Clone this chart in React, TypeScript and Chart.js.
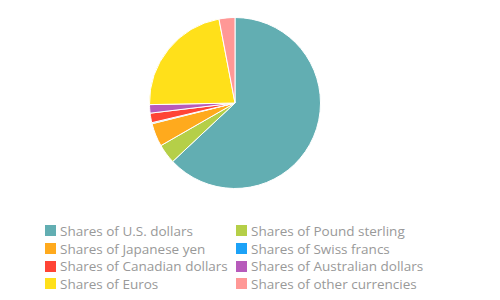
import React, { useEffect, useRef } from "react";
import { Chart, registerables } from "chart.js";

Chart.register(...registerables);

// Currency composition of reserves (percent shares)
const categories = [
  "Shares of U.S. dollars",
  "Shares of Pound sterling",
  "Shares of Japanese yen",
  "Shares of Swiss francs",
  "Shares of Canadian dollars",
  "Shares of Australian dollars",
  "Shares of Euros",
  "Shares of other currencies",
];
const shares = [63.0, 3.7, 4.4, 0.2, 1.8, 1.6, 22.3, 3.0];
const colors = [
  "#62AEB2",
  "#B5CF48",
  "#FFAA1D",
  "#1CA2F7",
  "#FF4436",
  "#B75BBB",
  "#FFE01A",
  "#FF9896",
];

export default function App() {
  const canvasRef = useRef<HTMLCanvasElement | null>(null);

  useEffect(() => {
    if (!canvasRef.current) return;
    const chart = new Chart(canvasRef.current, {
      type: "pie",
      data: {
        labels: categories,
        datasets: [
          {
            data: shares,
            backgroundColor: colors,
            borderColor: "#ffffff",
            borderWidth: 1,
          },
        ],
      },
      options: {
        animation: false,
        responsive: true,
        maintainAspectRatio: false,
        layout: { padding: 2 },
        plugins: {
          legend: { display: false },
          tooltip: { enabled: false },
        },
      },
    });
    return () => chart.destroy();
  }, []);

  return (
    <div
      style={{
        position: "absolute",
        left: 0,
        top: 0,
        width: 500,
        height: 300,
        background: "#ffffff",
        fontFamily: "'Open Sans', sans-serif",
      }}
    >
      <div
        style={{ position: "absolute", left: 147, top: 15, width: 176, height: 176 }}
      >
        <canvas ref={canvasRef} />
      </div>
      {/* two-column legend, filled row by row */}
      <div
        style={{
          position: "absolute",
          left: 45,
          top: 222,
          display: "grid",
          gridTemplateColumns: "191px 210px",
          gridAutoRows: "17.7px",
          fontSize: 13.5,
          color: "#999999",
        }}
      >
        {categories.map((name, i) => (
          <div
            key={name}
            style={{ display: "flex", alignItems: "center", whiteSpace: "nowrap" }}
          >
            <span
              style={{
                display: "inline-block",
                width: 11,
                height: 11,
                background: colors[i],
                marginRight: 4,
              }}
            />
            <span>{name}</span>
          </div>
        ))}
      </div>
    </div>
  );
}
